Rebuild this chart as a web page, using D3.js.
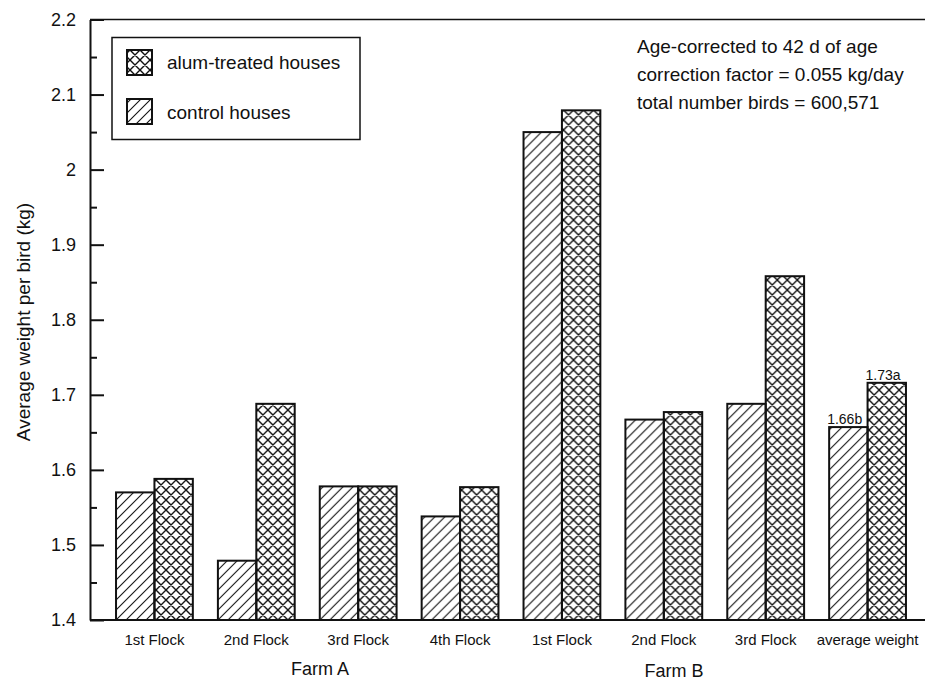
<!DOCTYPE html>
<html>
<head>
<meta charset="utf-8">
<script src="https://cdn.jsdelivr.net/npm/d3@7"></script>
<style>
  body { margin: 0; background: #fff; }
  text { font-family: "Liberation Sans", Arial, Helvetica, sans-serif; fill: #111; }
</style>
</head>
<body>
<svg width="925" height="682"></svg>
<script>
// Chart data
let groupKeys = ["A1", "A2", "A3", "A4", "B1", "B2", "B3", "avg"];
let groupLabels = ["1st Flock", "2nd Flock", "3rd Flock", "4th Flock", "1st Flock", "2nd Flock", "3rd Flock", "average weight"];
let series = ["control houses", "alum-treated houses"];
let controlValues = [1.570, 1.479, 1.578, 1.538, 2.050, 1.667, 1.688, 1.657];
let alumValues = [1.588, 1.688, 1.578, 1.577, 2.079, 1.677, 1.858, 1.716];
let yTicks = [1.4, 1.5, 1.6, 1.7, 1.8, 1.9, 2.0, 2.1, 2.2];
let yMinorTicks = [1.45, 1.55, 1.65, 1.75, 1.85, 1.95, 2.05, 2.15];
let farmLabels = ["Farm A", "Farm B"];
let notes = ["Age-corrected to 42 d of age", "correction factor = 0.055 kg/day", "total number birds = 600,571"];
let avgLabels = ["1.66b", "1.73a"];

let svg = d3.select("svg");

// patterns
let defs = svg.append("defs");
defs.append("pattern")
    .attr("id", "diag")
    .attr("patternUnits", "userSpaceOnUse")
    .attr("width", 10).attr("height", 10)
  .append("path")
    .attr("d", "M0,10L10,0M-2.5,2.5L2.5,-2.5M7.5,12.5L12.5,7.5")
    .attr("stroke", "#111").attr("stroke-width", 1.1);
let cross = defs.append("pattern")
    .attr("id", "cross")
    .attr("patternUnits", "userSpaceOnUse")
    .attr("width", 10).attr("height", 10);
cross.append("path")
    .attr("d", "M0,10L10,0M-2.5,2.5L2.5,-2.5M7.5,12.5L12.5,7.5M0,0L10,10M-2.5,7.5L2.5,12.5M7.5,-2.5L12.5,2.5")
    .attr("stroke", "#111").attr("stroke-width", 1.4);

let fills = {"control houses": "url(#diag)", "alum-treated houses": "url(#cross)"};

// scales
let x = d3.scaleBand().domain(groupKeys).range([103.5, 918.5])
    .paddingInner(0.246).paddingOuter(0.123);
let xs = d3.scaleBand().domain(series).range([0, x.bandwidth()]);
let y = d3.scaleLinear().domain([1.4, 2.2]).range([620, 19.5]);

let x0 = 90, x1 = 925;

// top frame line
svg.append("line")
    .attr("x1", x0).attr("x2", x1)
    .attr("y1", y(2.2)).attr("y2", y(2.2))
    .attr("stroke", "#111").attr("stroke-width", 1.5);

// bars
let rows = groupKeys.map((k, i) => ({key: k, values: [
    {s: series[0], v: controlValues[i]},
    {s: series[1], v: alumValues[i]}
]}));

let g = svg.selectAll(".grp").data(rows).enter().append("g")
    .attr("class", "grp")
    .attr("transform", d => "translate(" + x(d.key) + ",0)");

g.selectAll("rect").data(d => d.values).enter().append("rect")
    .attr("x", d => xs(d.s))
    .attr("y", d => y(d.v))
    .attr("width", xs.bandwidth())
    .attr("height", d => y(1.4) - y(d.v))
    .attr("fill", d => fills[d.s])
    .attr("stroke", "#111")
    .attr("stroke-width", 2);

// labels on the average bars
svg.selectAll(".avgLabel").data(avgLabels).enter().append("text")
    .attr("class", "avgLabel")
    .attr("x", (d, i) => x("avg") + xs(series[i]) - 2)
    .attr("y", (d, i) => y(i === 0 ? controlValues[7] : alumValues[7]) - 3)
    .style("font-size", "14px")
    .text(d => d);

// y axis
let yAxis = svg.append("g")
    .attr("transform", "translate(" + x0 + ",0)")
    .call(d3.axisLeft(y).tickValues(yTicks).tickSize(-14).tickSizeOuter(0)
        .tickPadding(14).tickFormat(d => d3.format("")(+d.toFixed(1))));
yAxis.select(".domain").attr("stroke", "#111").attr("stroke-width", 2);
yAxis.selectAll(".tick line").attr("stroke", "#111").attr("stroke-width", 2);
yAxis.selectAll(".tick text").style("font-size", "18px").style("font-family", "Liberation Sans, Arial, sans-serif").attr("fill", "#111");

let yMinor = svg.append("g")
    .attr("transform", "translate(" + x0 + ",0)")
    .call(d3.axisLeft(y).tickValues(yMinorTicks).tickSize(-7).tickSizeOuter(0).tickFormat(""));
yMinor.select(".domain").remove();
yMinor.selectAll(".tick line").attr("stroke", "#111").attr("stroke-width", 2);

// x axis line
svg.append("line")
    .attr("x1", x0).attr("x2", x1)
    .attr("y1", y(1.4)).attr("y2", y(1.4))
    .attr("stroke", "#111").attr("stroke-width", 2);

// group labels
svg.selectAll(".xLabel").data(groupKeys).enter().append("text")
    .attr("class", "xLabel")
    .attr("x", d => x(d) + x.bandwidth() / 2)
    .attr("y", 645)
    .attr("text-anchor", "middle")
    .style("font-size", "15px")
    .text((d, i) => groupLabels[i]);

// farm labels
svg.selectAll(".farm").data(farmLabels).enter().append("text")
    .attr("class", "farm")
    .attr("x", (d, i) => i === 0 ? 320 : 674)
    .attr("y", (d, i) => i === 0 ? 675 : 677)
    .attr("text-anchor", "middle")
    .style("font-size", "18px")
    .text(d => d);

// y axis title
svg.append("text")
    .attr("transform", "translate(30,322) rotate(-90)")
    .attr("text-anchor", "middle")
    .style("font-size", "19px")
    .text("Average weight per bird (kg)");

// legend
let legend = svg.append("g");
legend.append("rect")
    .attr("x", 112).attr("y", 37.5)
    .attr("width", 248).attr("height", 102)
    .attr("fill", "#fff").attr("stroke", "#111").attr("stroke-width", 1.5);
let legendOrder = [series[1], series[0]];
legendOrder.forEach((s, i) => {
    legend.append("rect")
        .attr("x", 127).attr("y", 50 + i * 49)
        .attr("width", 25).attr("height", 25)
        .attr("fill", fills[s])
        .attr("stroke", "#111").attr("stroke-width", 2);
    legend.append("text")
        .attr("x", 167).attr("y", 69 + i * 50)
        .style("font-size", "19px")
        .text(s);
});

// notes
svg.selectAll(".note").data(notes).enter().append("text")
    .attr("class", "note")
    .attr("x", 637)
    .attr("y", (d, i) => 53 + i * 28)
    .style("font-size", "19px")
    .text(d => d);
</script>
</body>
</html>
